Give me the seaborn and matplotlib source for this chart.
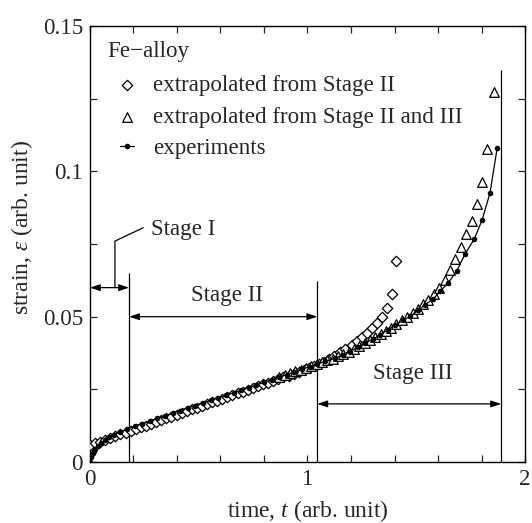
import numpy as np
import pandas as pd
import matplotlib
matplotlib.use("Agg")
import matplotlib.pyplot as plt
import seaborn as sns
from matplotlib.ticker import MultipleLocator, FixedLocator

# experiments (dots + line)
exp_t = [0.0, 0.004, 0.008, 0.012, 0.018, 0.025, 0.035, 0.05, 0.07, 0.09, 0.11, 0.14, 0.17,
         0.205, 0.24, 0.275, 0.31, 0.345, 0.38, 0.415, 0.45, 0.485, 0.52, 0.555, 0.59,
         0.625, 0.66, 0.695, 0.73, 0.765, 0.80, 0.835, 0.87, 0.905, 0.94, 0.975, 1.01,
         1.045, 1.08, 1.126, 1.164, 1.195, 1.233, 1.264, 1.302, 1.333, 1.371, 1.402,
         1.440, 1.471, 1.509, 1.540, 1.578, 1.609, 1.647, 1.686, 1.724, 1.766, 1.802,
         1.839, 1.872]
exp_s = [0.0, 0.0018, 0.0026, 0.0032, 0.0039, 0.0046, 0.0054, 0.0064, 0.0075, 0.0085, 0.0093,
         0.0104, 0.0114, 0.0123, 0.0132, 0.0141, 0.0150, 0.0159, 0.0168, 0.0177, 0.0186,
         0.0194, 0.0203, 0.0212, 0.0221, 0.0229, 0.0238, 0.0247, 0.0256, 0.0265, 0.0274,
         0.0283, 0.0292, 0.0301, 0.0310, 0.0319, 0.0328, 0.0337, 0.0346, 0.0357, 0.0369,
         0.0380, 0.0396, 0.0409, 0.0423, 0.0438, 0.0455, 0.0472, 0.0487, 0.0501, 0.0522,
         0.0541, 0.0561, 0.0587, 0.0616, 0.0657, 0.0716, 0.0766, 0.0832, 0.0926, 0.1082]

# extrapolated from Stage II (diamonds)
st2_t = [0.0, 0.023, 0.047, 0.070, 0.094, 0.117, 0.140, 0.164, 0.187, 0.211, 0.234, 0.257,
         0.281, 0.304, 0.328, 0.351, 0.374, 0.398, 0.421, 0.445, 0.468, 0.491, 0.515, 0.538,
         0.562, 0.585, 0.608, 0.632, 0.655, 0.679, 0.702, 0.725, 0.749, 0.772, 0.796, 0.819,
         0.842, 0.866, 0.889, 0.913, 0.936, 0.959, 0.983, 1.006, 1.030, 1.053, 1.076, 1.100,
         1.122, 1.149, 1.172, 1.203, 1.226, 1.249, 1.272, 1.295, 1.318, 1.341, 1.364, 1.387,
         1.407]
st2_s = [0.0058, 0.0064, 0.0070, 0.0076, 0.0083, 0.0089, 0.0095, 0.0101, 0.0107, 0.0113,
         0.0119, 0.0125, 0.0132, 0.0138, 0.0144, 0.0150, 0.0156, 0.0162, 0.0168, 0.0175,
         0.0181, 0.0187, 0.0193, 0.0199, 0.0205, 0.0211, 0.0217, 0.0224, 0.0230, 0.0236,
         0.0242, 0.0248, 0.0254, 0.0260, 0.0267, 0.0273, 0.0279, 0.0285, 0.0291, 0.0297,
         0.0303, 0.0309, 0.0316, 0.0322, 0.0329, 0.0336, 0.0344, 0.0353, 0.0364, 0.0377,
         0.0389, 0.0401, 0.0415, 0.0430, 0.0444, 0.0461, 0.0479, 0.0500, 0.0530, 0.0578,
         0.0690]

# extrapolated from Stage II and III (triangles)
st23_t = [0.87, 0.895, 0.919, 0.944, 0.968, 0.993, 1.017, 1.042, 1.066, 1.091, 1.115, 1.14,
          1.164, 1.189, 1.213, 1.238, 1.262, 1.287, 1.311, 1.336, 1.36, 1.385, 1.409, 1.434,
          1.458, 1.483, 1.507, 1.532, 1.556, 1.581, 1.605, 1.63, 1.654, 1.679, 1.706, 1.730,
          1.755, 1.779, 1.804, 1.827, 1.857]
st23_s = [0.0293, 0.0300, 0.0306, 0.0312, 0.0318, 0.0324, 0.0331, 0.0337, 0.0344, 0.0350,
          0.0356, 0.0364, 0.0372, 0.0380, 0.0389, 0.0399, 0.0409, 0.0419, 0.0429, 0.0440,
          0.0451, 0.0462, 0.0474, 0.0487, 0.0500, 0.0513, 0.0527, 0.0542, 0.0558, 0.0577,
          0.0600, 0.0627, 0.0660, 0.0698, 0.0740, 0.0783, 0.0828, 0.0889, 0.0963, 0.1078,
          0.1274]

# stage boundaries and their line heights
stage_t = [0.18, 1.045, 1.89]
stage_top = [0.065, 0.0624, 0.135]

sns.set_style("ticks")
plt.rcParams["font.family"] = ["Liberation Serif", "DejaVu Serif"]
plt.rcParams["mathtext.fontset"] = "custom"
plt.rcParams["mathtext.rm"] = "Liberation Serif"
plt.rcParams["mathtext.it"] = "Liberation Serif:italic"
fs = 16.6

fig = plt.figure(figsize=(5.32, 5.23), dpi=100)
ax = fig.add_axes([0.169, 0.1166, 0.818, 0.8336])

sns.lineplot(x=exp_t, y=exp_s, ax=ax, color="black", lw=0.9, marker="o",
             markersize=4.0, markeredgewidth=0, sort=False, label="experiments", zorder=4)
sns.scatterplot(x=st2_t, y=st2_s, ax=ax, marker="D", s=28, facecolor="white",
                edgecolor="black", linewidth=0.9, label="extrapolated from Stage II", zorder=3)
sns.scatterplot(x=st23_t, y=st23_s, ax=ax, marker="^", s=48, facecolor="white",
                edgecolor="black", linewidth=0.9, label="extrapolated from Stage II and III",
                zorder=3)

ax.vlines(stage_t, 0, stage_top, color="black", lw=0.9, zorder=2)

arw = dict(arrowstyle="<|-|>,head_length=0.6,head_width=0.2", color="black", lw=0.9,
           shrinkA=0, shrinkB=0, mutation_scale=10)
ax.annotate("", xy=(0, 0.060), xytext=(stage_t[0], 0.060), arrowprops=arw)
ax.annotate("", xy=(stage_t[0], 0.050), xytext=(stage_t[1], 0.050), arrowprops=arw)
ax.annotate("", xy=(stage_t[1], 0.020), xytext=(stage_t[2], 0.020), arrowprops=arw)
ax.plot([0.115, 0.115, 0.245], [0.060, 0.076, 0.0806], color="black", lw=0.9)

ax.text(0.283, 0.080, "Stage I", fontsize=fs, va="center", ha="left")
ax.text(0.632, 0.0572, "Stage II", fontsize=fs, va="center", ha="center")
ax.text(1.483, 0.0303, "Stage III", fontsize=fs, va="center", ha="center")
ax.text(0.041, 0.942, "Fe\u2212alloy", fontsize=fs, va="center", ha="left",
        transform=ax.transAxes)

ax.set_xlim(0, 2)
ax.set_ylim(0, 0.15)
ax.xaxis.set_major_locator(FixedLocator([0, 1, 2]))
ax.set_xticklabels(["0", "1", "2"])
ax.yaxis.set_major_locator(FixedLocator([0, 0.05, 0.1, 0.15]))
ax.set_yticklabels(["0", "0.05", "0.1", "0.15"])
ax.xaxis.set_minor_locator(MultipleLocator(0.2))
ax.yaxis.set_minor_locator(MultipleLocator(0.025))
ax.tick_params(which="both", direction="in", top=True, right=True, length=5,
               width=0.9, labelsize=fs, pad=5)
for sp in ax.spines.values():
    sp.set_linewidth(1.0)
    sp.set_color("black")

ax.set_xlabel(r"time, $t$ (arb. unit)", fontsize=17, labelpad=5.5)
ax.set_ylabel(r"strain, $\varepsilon$ (arb. unit)", fontsize=17)
ax.yaxis.set_label_coords(-0.126, 0.537)

h, l = ax.get_legend_handles_labels()
order = [l.index("extrapolated from Stage II"), l.index("extrapolated from Stage II and III"),
         l.index("experiments")]
ax.legend([h[i] for i in order], [l[i] for i in order], loc="upper left",
          bbox_to_anchor=(0.069, 0.887), frameon=False, fontsize=fs, handlelength=0.6,
          handletextpad=0.85, labelspacing=0.45, borderpad=0, borderaxespad=0)

fig.savefig("out.png", dpi=100)
